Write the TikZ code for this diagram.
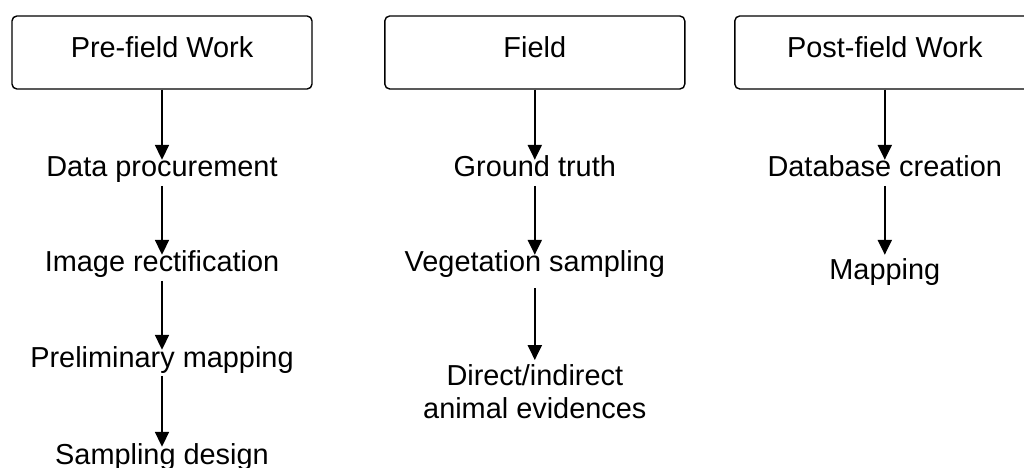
\documentclass[tikz,border=0pt]{standalone}
\usepackage{fontspec}
\setmainfont{Liberation Sans}
\usetikzlibrary{arrows.meta}

\begin{document}
\begin{tikzpicture}[
  stage/.style={draw, rounded corners=3.5pt, line width=1pt, minimum width=7.5cm,
                minimum height=1.825cm, text depth=7.8pt, inner sep=0pt},
  task/.style={anchor=base, inner sep=0pt, text height=12.1pt, text depth=6.2pt},
  arr/.style={-{Triangle[length=10.5pt, width=10pt]}, line width=1pt},
  font=\fontsize{20.55}{23.4}\selectfont]

  \useasboundingbox (0,0) rectangle (25.6,-11.7);

  % ----- Stage boxes -----
  \node[stage] at (4.05,-1.3125) (pre) {Pre-field Work};
  \node[stage] at (13.37,-1.3125) (field) {Field};
  \node[stage] at (22.12,-1.3125) (post) {Post-field Work};

  % ----- Pre-field column -----
  \node[task] at (4.05,-4.425) (proc) {Data procurement};
  \node[task] at (4.05,-6.8) (rect) {Image rectification};
  \node[task] at (4.05,-9.175) (prelim) {Preliminary mapping};
  \node[task] at (4.05,-11.6) (design) {Sampling design};

  % ----- Field column -----
  \node[task] at (13.37,-4.425) (truth) {Ground truth};
  \node[task] at (13.37,-6.8) (veg) {Vegetation sampling};
  \node[anchor=north, inner xsep=0pt, inner ysep=0.1cm, align=center] at (13.37,-9.0) (evid)
    {Direct/indirect\\animal evidences};

  % ----- Post-field column -----
  \node[task] at (22.12,-4.425) (dbase) {Database creation};
  \node[task] at (22.12,-7.0) (mapping) {Mapping};

  % ----- Arrows -----
  \draw[arr] (pre.south) -- (proc.north);
  \draw[arr] (proc.south) -- (rect.north);
  \draw[arr] (rect.south) -- (prelim.north);
  \draw[arr] (prelim.south) -- (design.north);

  \draw[arr] (field.south) -- (truth.north);
  \draw[arr] (truth.south) -- (veg.north);
  \draw[arr, shorten <=0.18cm] (veg.south) -- (evid.north);

  \draw[arr] (post.south) -- (dbase.north);
  \draw[arr, shorten >=0.2cm] (dbase.south) -- (mapping.north);

\end{tikzpicture}
\end{document}
